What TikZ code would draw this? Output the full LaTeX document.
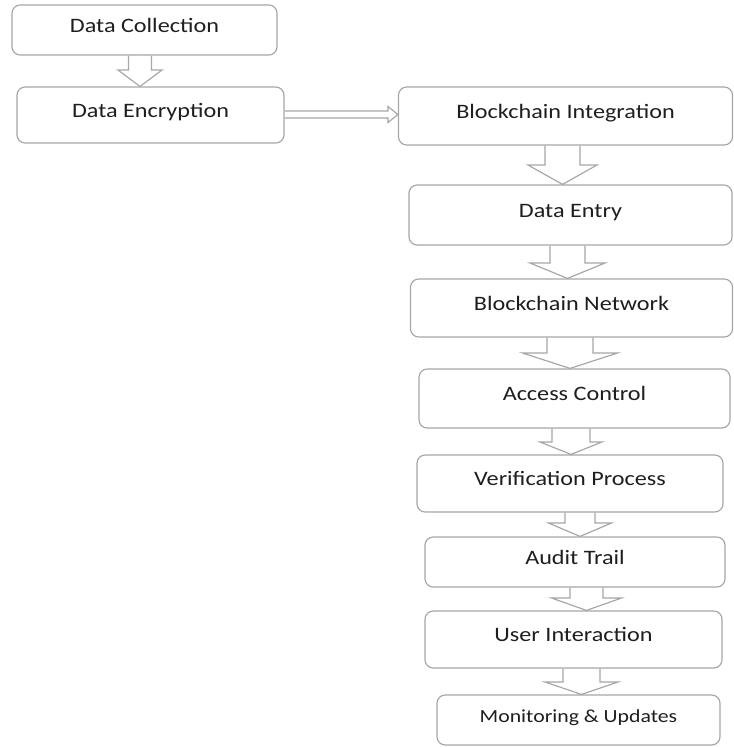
\documentclass[tikz,border=0pt]{standalone}
\usepackage{fontspec}
\setmainfont{Carlito}[FakeStretch=1.18]
\usetikzlibrary{calc}

\definecolor{boxgray}{HTML}{A6A6A6}
\definecolor{textgray}{HTML}{1E1E1E}

\begin{document}
\begin{tikzpicture}[x=0.03cm,y=-0.03cm,
  stepbox/.style={draw=boxgray,line width=1pt,rounded corners=7pt,
    text=textgray,font=\fontsize{17.5}{20}\selectfont,
    text height=12pt,text depth=8.4pt,inner sep=0pt},
  blkarrow/.style={draw=boxgray,line width=1pt,line join=miter}]
\useasboundingbox (0,0) rectangle (734,747);
% boxes
\node[stepbox,minimum width=265*0.03cm,minimum height=50*0.03cm] (coll) at (144.5,30) {Data Collection};
\node[stepbox,minimum width=267*0.03cm,minimum height=56*0.03cm] (enc) at (150.5,115) {Data Encryption};
\node[stepbox,minimum width=334*0.03cm,minimum height=58*0.03cm] (integ) at (565.5,116) {Blockchain Integration};
\node[stepbox,minimum width=323*0.03cm,minimum height=60*0.03cm] (entry) at (570.5,215) {Data Entry};
\node[stepbox,minimum width=322*0.03cm,minimum height=58*0.03cm] (net) at (571.5,308) {Blockchain Network};
\node[stepbox,minimum width=311*0.03cm,minimum height=59*0.03cm] (access) at (574.5,398.5) {Access Control};
\node[stepbox,minimum width=306*0.03cm,minimum height=57*0.03cm] (verif) at (570,483.5) {Verification Process};
\node[stepbox,minimum width=300*0.03cm,minimum height=50*0.03cm] (audit) at (575,562) {Audit Trail};
\node[stepbox,minimum width=297*0.03cm,minimum height=57*0.03cm] (user) at (573.5,639.5) {User Interaction};
\node[stepbox,font=\fontsize{15.75}{18}\selectfont,minimum width=283*0.03cm,minimum height=50*0.03cm] (monit) at (578.5,720) {Monitoring \& Updates};
% hollow block arrows: from/to/centre x/shaft half/head half/head start
\foreach \a/\b/\c/\s/\h/\y in {coll/enc/140/11.5/22/70,
    integ/entry/562.5/17.5/34.5/165,
    entry/net/567.5/17.5/37.5/263,
    net/access/570/23/47.5/353,
    access/verif/571/19/31/442,
    verif/audit/580/15/31.5/523,
    audit/user/586.5/16.5/35/598,
    user/monit/581.5/18.5/36.5/682}
  \draw[blkarrow] (\c-\s,0 |- \a.south) -- (\c-\s,\y) -- (\c-\h,\y)
    -- (\c,0 |- \b.north) -- (\c+\h,\y) -- (\c+\s,\y) -- (\c+\s,0 |- \a.south);
% thin hollow arrow across
\draw[blkarrow] (enc.east |- 0,111) -- (388,111) -- (388,106.5) -- (integ.west |- 0,114.5)
  -- (388,122.5) -- (388,118) -- (enc.east |- 0,118);
\end{tikzpicture}
\end{document}
